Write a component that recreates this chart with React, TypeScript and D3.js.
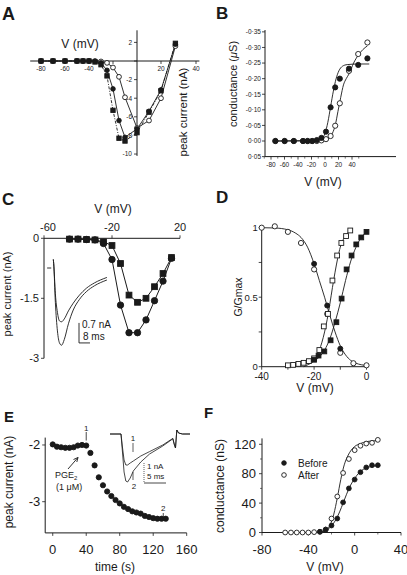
import React from 'react';
import * as d3 from 'd3';

const FONT = "'Liberation Sans', Arial, Helvetica, sans-serif";
const INK = '#1a1a1a';

// ---------------- Panel A : I-V ----------------
const aVolt = [-80, -70, -60, -50, -45, -40, -35, -30, -25, -20, -15, -10, 0, 10, 20, 32];
const aSquares = [0, 0, 0, 0, 0, 0, -0.1, -0.4, -1.6, -5.3, -8.3, -8.6, -7.7, -5.5, -3.2, 1.9];
const aFilled = [0, 0, 0, 0, 0, 0, -0.05, -0.2, -1.0, -3.0, -6.4, -8.2, -7.3, -5.4, -3.1, 1.8];
const aOpen = [0, 0, 0, 0, 0, 0, 0, -0.05, -0.2, -0.7, -1.7, -3.9, -7.2, -6.4, -4.0, 1.6];
const aXTicks = [-80, -60, -40, -20, 20, 40];
const aXLabels = [-80, -60, -40, 20, 40];
const aYTicks = [2, 0, -2, -4, -6, -8, -10];
const aYLabels = [2, -2, -4, -6, -8, -10];

// ---------------- Panel B : conductance ----------------
const bVolt = [-80, -70, -60, -50, -45, -40, -35, -30, -25, -20, -15, -10, 0, 10, 20];
const bFilled = [0, 0, 0, 0, 0, 0, -0.003, -0.01, -0.03, -0.108, -0.172, -0.2, -0.232, -0.244, -0.265];
const bOpen = [0, 0, 0, 0, 0, 0, 0, -0.002, -0.006, -0.016, -0.049, -0.121, -0.225, -0.279, -0.316];
const bFitFilledV = [-80, -40, -30, -26, -23, -20, -17, -14, -11, -7, -2, 10, 22];
const bFitFilled = [0, -0.001, -0.008, -0.025, -0.06, -0.11, -0.16, -0.2, -0.225, -0.24, -0.245, -0.247, -0.247];
const bFitOpenV = [-80, -30, -22, -18, -15, -12, -9, -6, -3, 0, 5, 10, 15, 20];
const bFitOpen = [0, -0.001, -0.008, -0.025, -0.05, -0.095, -0.14, -0.18, -0.2, -0.215, -0.25, -0.275, -0.293, -0.305];
const bYTicks = [-0.35, -0.3, -0.25, -0.2, -0.15, -0.1, -0.05, 0, 0.05];
const bXLabels = [-80, -60, -40, -20, 0, 20, 40];
const bXMinor = [-90, -70, -50, -30, -10, 10, 30, 50];

// ---------------- Panel C ----------------
const cVolt = [-45, -40, -35, -30, -25, -20, -15, -10, -5, 0, 5, 10, 15];
const cSquares = [-0.02, -0.02, -0.03, -0.04, -0.09, -0.18, -0.63, -1.42, -1.6, -1.5, -1.21, -0.88, -0.48];
const cCircles = [-0.02, -0.02, -0.03, -0.04, -0.13, -0.53, -1.67, -2.36, -2.36, -2.04, -1.56, -1.07, -0.5];
const cXTicks = [-60, -20, 20];
const cYTicks = [0, -1.5, -3];
const cTraceT = [0, 0.3, 1.5, 3, 4.5, 6, 8, 11, 14.5, 19, 24, 30, 39];
const cTraceSmall = [0.3, 0.15, -0.9, -1.55, -1.85, -1.88, -1.78, -1.5, -1.23, -0.95, -0.71, -0.52, -0.33];
const cTraceLarge = [0.3, 0.15, -1.2, -2.2, -2.62, -2.7, -2.5, -1.95, -1.47, -1.1, -0.83, -0.62, -0.42];

// ---------------- Panel D ----------------
const dInactOpenV = [-40, -35, -30, -25, -20, -15, -10, -5, 0];
const dInactOpen = [1.0, 1.01, 0.97, 0.89, 0.7, 0.38, 0.1, 0.025, 0.01];
const dInactFilledV = [-20, -15, -10];
const dInactFilled = [0.74, 0.44, 0.13];
const dActOpenV = [-30, -28, -26, -24, -22, -20, -18, -16.3, -14.7, -13, -11.2, -9.6, -7.8, -6.2];
const dActOpen = [0.01, 0.013, 0.02, 0.028, 0.04, 0.06, 0.12, 0.29, 0.38, 0.62, 0.8, 0.89, 0.94, 0.98];
const dActFilledV = [-20, -18.3, -16.1, -13.7, -11.5, -9.5, -7.6, -5.7, -3.9, -2, 0];
const dActFilled = [0.05, 0.08, 0.11, 0.19, 0.32, 0.49, 0.7, 0.8, 0.88, 0.93, 0.97];
const dFitInactV = [-40, -35, -30, -27, -25, -22.5, -20, -18, -16, -14, -12, -10, -8, -6, -4, -2, 0];
const dFitInact = [1.0, 0.998, 0.985, 0.96, 0.93, 0.86, 0.74, 0.62, 0.5, 0.37, 0.25, 0.15, 0.085, 0.045, 0.025, 0.014, 0.008];
const dFitActOpenV = [-30, -26, -22, -20, -18, -16, -15, -14, -13, -12, -11, -10, -9, -8, -7, -6];
const dFitActOpen = [0, 0.01, 0.03, 0.06, 0.12, 0.25, 0.34, 0.45, 0.57, 0.68, 0.78, 0.86, 0.91, 0.945, 0.965, 0.978];
const dFitActFilledV = [-24, -20, -18, -16, -14, -12, -10, -8, -6, -4, -2, 0];
const dFitActFilled = [0, 0.04, 0.07, 0.12, 0.2, 0.32, 0.46, 0.62, 0.76, 0.86, 0.93, 0.97];
const dXTicks = [-40, -30, -20, -10, 0];
const dXLabels = [-40, -20, 0];
const dYTicks = [0, 0.25, 0.5, 0.75, 1];
const dYLabels = [0, 0.5, 1];

// ---------------- Panel E ----------------
const eTime = [0, 5, 10, 15, 20, 25, 30, 35, 40, 45, 50, 55, 60, 65, 70, 75, 80, 85, 90, 95, 100, 105, 110, 115, 120, 125, 130, 135];
const eCurrent = [-1.99, -2.03, -2.04, -2.05, -2.05, -2.04, -2.01, -2.0, -2.01, -2.14, -2.36, -2.57, -2.71, -2.82, -2.9, -2.97, -3.03, -3.09, -3.13, -3.17, -3.19, -3.21, -3.25, -3.27, -3.29, -3.3, -3.3, -3.3];
const eXTicks = [0, 40, 80, 120, 160];
const eYTicks = [-2, -3];
const eTraceT = [0, 2.5, 2.8, 3.2, 3.6, 4.0, 4.6, 5.3, 7, 9, 12, 14.3, 14.6, 14.9, 15.2, 15.6, 16.5, 18.2];
const eTrace1 = [0, 0, -0.6, -1.3, -1.55, -1.55, -1.45, -1.35, -1.1, -0.88, -0.55, -0.22, -0.5, -0.7, 0.2, 0.05, 0, 0];
const eTrace2 = [0, 0, -0.8, -1.9, -2.35, -2.4, -2.2, -1.85, -1.4, -1.0, -0.6, -0.24, -0.5, -0.7, 0.2, 0.05, 0, 0];

// ---------------- Panel F ----------------
const fVolt = [-60, -55, -50, -45, -40, -35, -30, -25, -20, -15, -10, -5, 0, 5, 10, 15, 20];
const fAfter = [0, 0, 0, 0, 0, 0.5, 1, 4, 19, 49, 81, 100, 112, 118, 121, 122, 126];
const fBeforeV = [-30, -25, -20, -15, -10, -5, 0, 5, 10, 15, 20];
const fBefore = [1, 4, 9.5, 19, 41, 60, 72, 82, 88.5, 91.5, 91.5];
const fFitAfterV = [-30, -27, -24, -21, -18, -15, -12, -9, -6, -3, 0, 5, 10, 15, 20];
const fFitAfter = [0, 1, 4, 11, 25, 47, 72, 92, 104, 112, 117, 121, 123.5, 124.5, 125];
const fFitBeforeV = [-30, -25, -22, -19, -16, -13, -10, -7, -4, -1, 2, 5, 8, 11, 15, 20];
const fFitBefore = [0, 2.5, 5.5, 11, 18, 28, 40, 52, 63, 71, 78, 83, 86.5, 88.5, 90, 91];
const fXTicks = [-80, -40, 0, 40];
const fXMinor = [-60, -20, 20];
const fYTicks = [0, 40, 80, 120];
const fYMinor = [20, 60, 100];

type Sc = d3.ScaleLinear<number, number>;

function Mark({ cx, cy, shape, filled, s }: { cx: number; cy: number; shape: 'circle' | 'square'; filled: boolean; s: number }) {
  const fill = filled ? INK : '#fff';
  if (shape === 'circle') return <circle cx={cx} cy={cy} r={s} fill={fill} stroke={INK} strokeWidth={0.9} />;
  return <rect x={cx - s} y={cy - s} width={2 * s} height={2 * s} fill={fill} stroke={INK} strokeWidth={0.9} />;
}

function path(xs: number[], ys: number[], sx: Sc, sy: Sc, smooth = false) {
  const g = d3.line<number>().x((_, i) => sx(xs[i])).y((d) => sy(d));
  if (smooth) g.curve(d3.curveMonotoneX);
  return g(ys) || '';
}

function Marks({ xs, ys, sx, sy, shape, filled, s }: { xs: number[]; ys: number[]; sx: Sc; sy: Sc; shape: 'circle' | 'square'; filled: boolean; s: number }) {
  return (
    <g>
      {ys.map((v, i) => (
        <Mark key={i} cx={sx(xs[i])} cy={sy(v)} shape={shape} filled={filled} s={s} />
      ))}
    </g>
  );
}

const ax = { stroke: INK, strokeWidth: 1, fill: 'none' } as const;

function PanelA() {
  const x = d3.scaleLinear().domain([-89, 52]).range([30.2, 199.4]);
  // printed tick labels in the original are not evenly spaced on the positive side
  const xl = d3.scaleLinear().domain([-80, 20, 40]).range([x(-80), x(20), 196]);
  const y = d3.scaleLinear().domain([-10.2, 3.3]).range([155.9, 30.3]);
  const x0 = x(0), y0 = y(0);
  return (
    <g>
      <text x={2} y={20} fontSize={18} fontWeight="bold">A</text>
      <line x1={x(-89)} x2={x(52)} y1={y0} y2={y0} {...ax} />
      {aXTicks.map((v) => <line key={v} x1={xl(v)} x2={xl(v)} y1={y0} y2={y0 + 3} {...ax} strokeWidth={0.8} />)}
      {aXLabels.map((v) => <text key={v} x={xl(v)} y={y0 + 9.5} fontSize={6.5} textAnchor="middle">{v}</text>)}
      <line x1={x0} x2={x0} y1={y(3.3)} y2={y(-10.2)} {...ax} />
      {aYTicks.map((v) => <line key={v} x1={x0 - 3} x2={x0} y1={y(v)} y2={y(v)} {...ax} strokeWidth={0.8} />)}
      {aYLabels.map((v) => <text key={v} x={x0 - 5} y={y(v) + 2.3} fontSize={6.5} textAnchor="end">{v}</text>)}
      <text x={80} y={48} fontSize={12} textAnchor="middle">V (mV)</text>
      <text transform={`translate(187,112) rotate(-90)`} fontSize={11.5} textAnchor="middle">peak current (nA)</text>
      <path d={path(aVolt, aSquares, x, y)} {...ax} strokeWidth={0.9} strokeDasharray="3,1.5,1,1.5" />
      <path d={path(aVolt, aFilled, x, y)} {...ax} strokeWidth={0.9} />
      <path d={path(aVolt, aOpen, x, y)} {...ax} strokeWidth={0.9} />
      <Marks xs={aVolt} ys={aOpen} sx={x} sy={y} shape="circle" filled={false} s={2.4} />
      <Marks xs={aVolt} ys={aFilled} sx={x} sy={y} shape="circle" filled={true} s={2.3} />
      <Marks xs={aVolt} ys={aSquares} sx={x} sy={y} shape="square" filled={true} s={2.2} />
    </g>
  );
}

function PanelB() {
  const x = d3.scaleLinear().domain([-80, 20]).range([275.4, 367.4]);
  // printed tick labels in the original sit on a compressed scale
  const xl = d3.scaleLinear().domain([-80, 40]).range([271, 352]);
  const y = d3.scaleLinear().domain([0.05, -0.356]).range([156.6, 30]);
  const fmt = (v: number) => {
    const s = d3.format('.2f')(Math.abs(v)).replace('.', '·');
    return v < 0 ? '-' + s : s;
  };
  const yb = y(0.05);
  return (
    <g>
      <text x={216} y={19} fontSize={17} fontWeight="bold">B</text>
      <line x1={265} x2={265} y1={y(-0.356)} y2={yb} {...ax} />
      {bYTicks.map((v) => <line key={v} x1={262} x2={265} y1={y(v)} y2={y(v)} {...ax} strokeWidth={0.8} />)}
      {bYTicks.map((v) => <text key={v} x={261} y={y(v) + 2.3} fontSize={6.5} textAnchor="end">{fmt(v)}</text>)}
      <line x1={265} x2={396} y1={yb} y2={yb} {...ax} />
      {bXLabels.map((v) => <line key={v} x1={xl(v)} x2={xl(v)} y1={yb} y2={yb + 3} {...ax} strokeWidth={0.8} />)}
      {bXMinor.map((v) => <line key={v} x1={xl(v)} x2={xl(v)} y1={yb} y2={yb + 2} {...ax} strokeWidth={0.6} />)}
      {bXLabels.map((v) => <text key={v} x={xl(v)} y={167} fontSize={6.5} textAnchor="middle">{v}</text>)}
      <text x={323} y={186} fontSize={12} textAnchor="middle">V (mV)</text>
      <text transform={`translate(237,84) rotate(-90)`} fontSize={11} textAnchor="middle">
        conductance (<tspan fontStyle="italic">μ</tspan>S)
      </text>
      <path d={path(bFitFilledV, bFitFilled, x, y, true)} {...ax} strokeWidth={0.9} />
      <path d={path(bFitOpenV, bFitOpen, x, y, true)} {...ax} strokeWidth={0.9} />
      <Marks xs={bVolt} ys={bOpen} sx={x} sy={y} shape="circle" filled={false} s={2.6} />
      <Marks xs={bVolt} ys={bFilled} sx={x} sy={y} shape="circle" filled={true} s={2.6} />
    </g>
  );
}

function PanelC() {
  const x = d3.scaleLinear().domain([-60, 20]).range([44, 180]);
  const y = d3.scaleLinear().domain([0, -3]).range([238.3, 358.3]);
  const ti = d3.scaleLinear().domain([0, 39]).range([53.3, 106.9]);
  const ii = d3.scaleLinear().domain([0, -1]).range([268, 296.6]);
  const sbT = 18.7, sbI = -2.62;
  return (
    <g>
      <text x={2} y={205} fontSize={17} fontWeight="bold">C</text>
      <text x={113} y={213} fontSize={12} textAnchor="middle">V (mV)</text>
      <line x1={x(-60)} x2={x(20)} y1={y(0)} y2={y(0)} {...ax} />
      {cXTicks.map((v) => <line key={v} x1={x(v)} x2={x(v)} y1={y(0) - 3} y2={y(0)} {...ax} strokeWidth={0.8} />)}
      {cXTicks.map((v) => <text key={v} x={x(v) + (v === -60 ? 4 : 0)} y={231} fontSize={11} textAnchor="middle">{v}</text>)}
      <line x1={x(-60)} x2={x(-60)} y1={y(0)} y2={y(-3)} {...ax} />
      {cYTicks.map((v) => <line key={v} x1={x(-60) - 3} x2={x(-60)} y1={y(v)} y2={y(v)} {...ax} strokeWidth={0.8} />)}
      {cYTicks.map((v) => <text key={v} x={39} y={y(v) + 4} fontSize={11} textAnchor="end">{v}</text>)}
      <text transform={`translate(11,294) rotate(-90)`} fontSize={11} textAnchor="middle">peak current (nA)</text>
      {/* inset current traces */}
      <line x1={ti(-4.5)} x2={ti(-1.5)} y1={ii(0)} y2={ii(0)} {...ax} strokeWidth={0.9} />
      <path d={path(cTraceT, cTraceSmall, ti, ii, true)} {...ax} strokeWidth={0.9} />
      <path d={path(cTraceT, cTraceLarge, ti, ii, true)} {...ax} strokeWidth={0.9} />
      <path d={`M${ti(sbT)},${ii(sbI + 0.7)}V${ii(sbI)}H${ti(sbT + 8)}`} {...ax} strokeWidth={0.9} />
      <text x={82} y={328} fontSize={10}>0.7 nA</text>
      <text x={83} y={340} fontSize={10}>8 ms</text>
      <path d={path(cVolt, cSquares, x, y)} {...ax} strokeWidth={1} />
      <path d={path(cVolt, cCircles, x, y)} {...ax} strokeWidth={1} />
      <Marks xs={cVolt} ys={cCircles} sx={x} sy={y} shape="circle" filled={true} s={3.2} />
      <Marks xs={cVolt} ys={cSquares} sx={x} sy={y} shape="square" filled={true} s={2.9} />
    </g>
  );
}

function PanelD() {
  const x = d3.scaleLinear().domain([-40, 0]).range([261.7, 366.5]);
  const y = d3.scaleLinear().domain([0, 1]).range([366.7, 227.7]);
  const xb = x(-40), yb = y(0);
  return (
    <g>
      <text x={216} y={203} fontSize={17} fontWeight="bold">D</text>
      <line x1={xb} x2={xb} y1={y(1.005)} y2={yb} {...ax} />
      {dYTicks.map((v) => <line key={v} x1={xb - 3} x2={xb} y1={y(v)} y2={y(v)} {...ax} strokeWidth={0.8} />)}
      {dYLabels.map((v) => <text key={v} x={xb - 4} y={y(v) + 3.3} fontSize={9.5} textAnchor="end">{v}</text>)}
      <line x1={xb} x2={x(0)} y1={yb} y2={yb} {...ax} />
      {dXTicks.map((v) => <line key={v} x1={x(v)} x2={x(v)} y1={yb} y2={yb + 3} {...ax} strokeWidth={0.8} />)}
      {dXLabels.map((v) => <text key={v} x={x(v)} y={yb + 13} fontSize={10} textAnchor="middle">{v}</text>)}
      <text x={315} y={392} fontSize={12} textAnchor="middle">V (mV)</text>
      <text transform={`translate(242,297) rotate(-90)`} fontSize={10.5} textAnchor="middle">G/Gmax</text>
      <path d={path(dFitInactV, dFitInact, x, y, true)} {...ax} strokeWidth={0.9} />
      <path d={path(dFitActOpenV, dFitActOpen, x, y, true)} {...ax} strokeWidth={0.9} />
      <path d={path(dFitActFilledV, dFitActFilled, x, y, true)} {...ax} strokeWidth={0.9} />
      <Marks xs={dInactOpenV} ys={dInactOpen} sx={x} sy={y} shape="circle" filled={false} s={2.6} />
      <Marks xs={dInactFilledV} ys={dInactFilled} sx={x} sy={y} shape="circle" filled={true} s={2.5} />
      <Marks xs={dActOpenV} ys={dActOpen} sx={x} sy={y} shape="square" filled={false} s={2.4} />
      <Marks xs={dActFilledV} ys={dActFilled} sx={x} sy={y} shape="square" filled={true} s={2.4} />
    </g>
  );
}

function PanelE() {
  const x = d3.scaleLinear().domain([-9, 160]).range([45.2, 186.7]);
  const y = d3.scaleLinear().domain([-1.87, -3.55]).range([437.6, 532.9]);
  const ti = d3.scaleLinear().domain([0, 18.2]).range([110, 190]);
  const ii = d3.scaleLinear().domain([0, -1]).range([434, 454]);
  const xb = x(-9), yb = y(-3.55);
  return (
    <g>
      <text x={4} y={422} fontSize={15} fontWeight="bold">E</text>
      <line x1={xb} x2={xb} y1={y(-1.87)} y2={yb} {...ax} />
      {eYTicks.map((v) => <line key={v} x1={xb - 3} x2={xb} y1={y(v)} y2={y(v)} {...ax} strokeWidth={0.8} />)}
      {eYTicks.map((v) => <text key={v} x={xb - 5} y={y(v) + 4.5} fontSize={13} textAnchor="end">{v}</text>)}
      <line x1={xb} x2={x(160)} y1={yb} y2={yb} {...ax} />
      {eXTicks.map((v) => <line key={v} x1={x(v)} x2={x(v)} y1={yb} y2={yb + 3} {...ax} strokeWidth={0.8} />)}
      {eXTicks.map((v) => <text key={v} x={x(v)} y={554} fontSize={13} textAnchor="middle">{v}</text>)}
      <text x={115} y={571} fontSize={12} textAnchor="middle">time (s)</text>
      <text transform={`translate(13,482) rotate(-90)`} fontSize={12} textAnchor="middle">peak current (nA)</text>
      <Marks xs={eTime} ys={eCurrent} sx={x} sy={y} shape="circle" filled={true} s={2.6} />
      {/* markers 1 and 2 */}
      <text x={x(40)} y={430.5} fontSize={8} textAnchor="middle">1</text>
      <line x1={x(40)} x2={x(40)} y1={432} y2={440.5} stroke={INK} strokeWidth={0.8} />
      <text x={x(132)} y={511} fontSize={8} textAnchor="middle">2</text>
      <line x1={x(132)} x2={x(132)} y1={513} y2={518} stroke={INK} strokeWidth={0.8} />
      {/* PGE2 annotation */}
      <text x={55} y={478} fontSize={9}>PGE<tspan fontSize={6} dy={2}>2</tspan></text>
      <text x={56} y={490} fontSize={9}>(1 μM)</text>
      <path d="M68,469 L78,457.5 M78,457.5 L73.5,459.5 M78,457.5 L76.8,462" {...ax} strokeWidth={0.9} />
      {/* inset traces */}
      <path d={path(eTraceT, eTrace1, ti, ii, false)} {...ax} strokeWidth={0.8} />
      <path d={path(eTraceT, eTrace2, ti, ii, false)} {...ax} strokeWidth={0.8} />
      <text x={133} y={441} fontSize={8} textAnchor="middle">1</text>
      <line x1={133} x2={133} y1={443} y2={452} stroke={INK} strokeWidth={0.7} />
      <line x1={133} x2={133} y1={472} y2={480} stroke={INK} strokeWidth={0.7} />
      <text x={134} y={489} fontSize={8} textAnchor="middle">2</text>
      <line x1={144} x2={144} y1={463} y2={483} stroke={INK} strokeWidth={0.7} strokeDasharray="1,1" />
      <line x1={144} x2={ti(0) + 56} y1={483} y2={483} stroke={INK} strokeWidth={0.8} />
      <text x={147} y={469} fontSize={8}>1 nA</text>
      <text x={147} y={479} fontSize={8}>5 ms</text>
    </g>
  );
}

function PanelF() {
  const x = d3.scaleLinear().domain([-80, 40]).range([262, 401]);
  const y = d3.scaleLinear().domain([0, 128]).range([532.5, 438.4]);
  const xb = x(-80), yb = y(0);
  return (
    <g>
      <text x={204} y={418} fontSize={15} fontWeight="bold">F</text>
      <line x1={xb} x2={xb} y1={y(128)} y2={yb} {...ax} />
      {fYTicks.map((v) => <line key={v} x1={xb - 3} x2={xb} y1={y(v)} y2={y(v)} {...ax} strokeWidth={0.8} />)}
      {fYMinor.map((v) => <line key={v} x1={xb - 2} x2={xb} y1={y(v)} y2={y(v)} {...ax} strokeWidth={0.6} />)}
      {fYTicks.map((v) => <text key={v} x={xb - 6} y={y(v) + 4.5} fontSize={13} textAnchor="end">{v}</text>)}
      <line x1={xb} x2={x(40)} y1={yb} y2={yb} {...ax} />
      {fXTicks.map((v) => <line key={v} x1={x(v)} x2={x(v)} y1={yb} y2={yb + 3} {...ax} strokeWidth={0.8} />)}
      {fXMinor.map((v) => <line key={v} x1={x(v)} x2={x(v)} y1={yb} y2={yb + 2} {...ax} strokeWidth={0.6} />)}
      {fXTicks.map((v) => <text key={v} x={x(v)} y={554} fontSize={13} textAnchor="middle">{v}</text>)}
      <text x={325} y={571} fontSize={12} textAnchor="middle">V (mV)</text>
      <text transform={`translate(224,486) rotate(-90)`} fontSize={12} textAnchor="middle">conductance (nS)</text>
      <path d={path(fFitAfterV, fFitAfter, x, y, true)} {...ax} strokeWidth={0.9} />
      <path d={path(fFitBeforeV, fFitBefore, x, y, true)} {...ax} strokeWidth={0.9} />
      <Marks xs={fVolt} ys={fAfter} sx={x} sy={y} shape="circle" filled={false} s={2.4} />
      <Marks xs={fBeforeV} ys={fBefore} sx={x} sy={y} shape="circle" filled={true} s={2.4} />
      <Mark cx={284} cy={463} shape="circle" filled={true} s={2.3} />
      <text x={298} y={466.5} fontSize={10}>Before</text>
      <Mark cx={284} cy={475} shape="circle" filled={false} s={2.3} />
      <text x={298} y={478.5} fontSize={10}>After</text>
    </g>
  );
}

export default function App() {
  return (
    <svg
      width={407}
      height={575}
      viewBox="0 0 407 575"
      style={{ position: 'absolute', left: 0, top: 0, background: '#fff' }}
      fontFamily={FONT}
      fill={INK}
    >
      <rect width={407} height={575} fill="#fff" />
      <PanelA />
      <PanelB />
      <PanelC />
      <PanelD />
      <PanelE />
      <PanelF />
    </svg>
  );
}
